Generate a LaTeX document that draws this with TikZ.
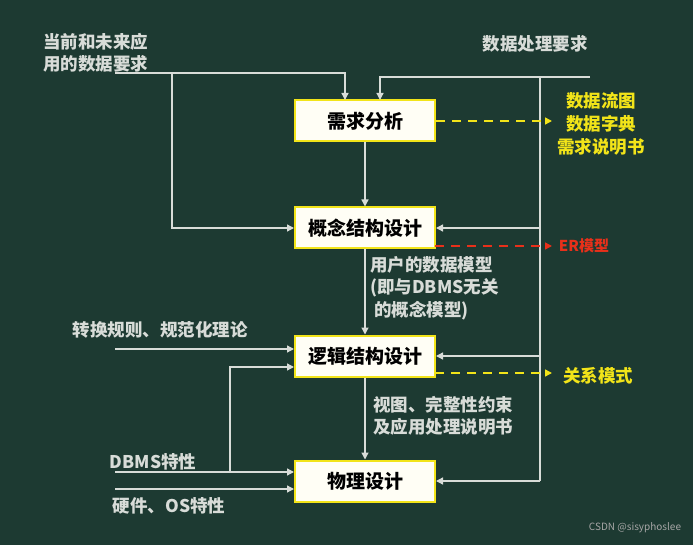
\documentclass[tikz,border=0pt]{standalone}
\usepackage{fontspec}
\setmainfont{Noto Sans CJK SC}
\usetikzlibrary{arrows.meta}
\definecolor{bg}{HTML}{1D3A32}
\definecolor{ln}{HTML}{D8DCD8}
\definecolor{yl}{HTML}{F2E419}
\definecolor{rd}{HTML}{E8301A}
\tikzset{
 box/.style={draw=yl,line width=2pt,fill=white!96!yellow,minimum width=140pt,minimum height=41pt,font=\fontsize{19}{21}\selectfont\bfseries,text=black,inner sep=0pt},
 lab/.style={text=ln,font=\fontsize{17.5}{22.5}\selectfont\bfseries,inner sep=0pt},
 wl/.style={draw=ln,line width=1.3pt},
 wa/.style={wl,-{Triangle[width=7pt,length=7pt]}},
 da/.style={line width=1.5pt,dash pattern=on 9pt off 7pt,-{Triangle[width=7pt,length=7pt]}},
}
\begin{document}
\begin{tikzpicture}[x=1pt,y=-1pt]
\fill[bg] (0,0) rectangle (693,545);
\useasboundingbox (0,0) rectangle (693,545);
\node[box] (b1) at (365,121) {需求分析};
\node[box] (b2) at (365,228) {概念结构设计};
\node[box] (b3) at (365,356) {逻辑结构设计};
\node[box] (b4) at (365,481) {物理设计};
% left top input
\node[lab,align=left,anchor=north west] (t1) at (43,33) {当前和未来应\\用的数据要求};
\coordinate (l1) at (115,73);
\coordinate (l1b) at (172,73);
\draw[wa] (l1) -- (345,73) -- (345,100);
\draw[wa] (l1b) |- (b2.west);
% right top input
\node[lab] (t2) at (535,44) {数据处理要求};
\coordinate (r1) at (590,77);
\coordinate (rv) at (540,77);
\draw[wa] (r1) -- (380,77) -- (380,100);
\draw[wl] (rv) -- (540,481);
\draw[wa] (540,228) -- (b2.east);
\draw[wa] (540,356) -- (b3.east);
\draw[wa] (540,481) -- (b4.east);
% down arrows
\draw[wa] (b1) -- (b2);
\draw[wa] (b2) -- (b3);
\draw[wa] (b3) -- (b4);
\node[lab,align=left,anchor=north west] (t3) at (370,256) {用户的数据模型\\(即与DBMS无关\\\ 的概念模型)};
\node[lab,align=left,anchor=north west] (t4) at (373,396) {视图、完整性约束\\及应用处理说明书};
% left lower inputs
\node[lab] (t5) at (160,330) {转换规则、规范化理论};
\coordinate (l3) at (115,349);
\draw[wa] (l3) -- (b3.west |- l3);
\node[lab] (t6) at (153,462) {DBMS特性};
\coordinate (l4) at (115,472);
\draw[wa] (l4) -- (b4.west |- l4);
\draw[wa] (230,472) -- (230,367) -- (b3.west |- 0,367);
\coordinate (l5) at (115,489);
\draw[wa] (l5) -- (b4.west |- l5);
\node[lab] (t7) at (169,506) {硬件、OS特性};
% outputs
\coordinate (o1) at (552,121);
\draw[da,yl] (b1.east) -- (o1);
\node[lab,text=yl,align=center,font=\fontsize{17.5}{23}\selectfont\bfseries] (t8) at (601,124) {数据流图\\数据字典\\需求说明书};
\coordinate (o2) at (552,246);
\draw[da,rd] (435,246) -- (o2);
\node[lab,text=rd,font=\fontsize{15}{17}\selectfont\bfseries] (t9) at (584,246) {ER模型};
\coordinate (o3) at (552,373);
\draw[da,yl] (435,373) -- (o3);
\node[lab,text=yl] (t10) at (598,376) {关系模式};
\node[text=gray!70,font=\fontsize{10}{12}\selectfont,inner sep=0pt] (wm) at (635,528) {CSDN @sisyphoslee};
\end{tikzpicture}
\end{document}
